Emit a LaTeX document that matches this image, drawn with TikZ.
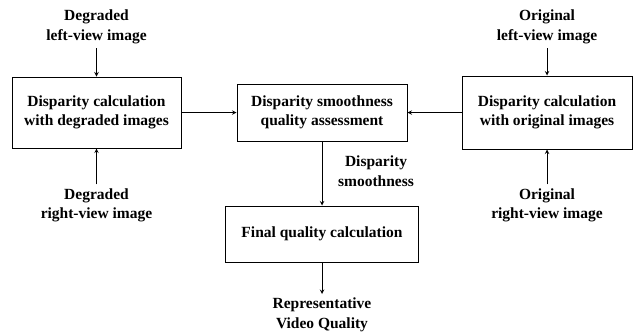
\documentclass[tikz,border=0pt]{standalone}
\usepackage{fontspec}
\setmainfont{Liberation Serif}
\usetikzlibrary{arrows,positioning}

\begin{document}
\begin{tikzpicture}[x=1pt, y=-1pt, >=stealth,
        box/.style={draw, line width=1pt, align=center, inner sep=0pt,
            font=\fontsize{15.5}{19.5}\selectfont\bfseries},
        lbl/.style={align=center, inner sep=4pt,
            font=\fontsize{15.5}{19.5}\selectfont\bfseries},
        flow/.style={->, line width=1pt}]

        \useasboundingbox (0,0) rectangle (636,333);

        % boxes
        \node[box, minimum width=169pt, minimum height=71pt] (degcalc) at (96.5,112.5)
            {Disparity calculation\\with degraded images};
        \node[box, minimum width=170pt, minimum height=57pt] (smooth) at (322,112.5)
            {Disparity smoothness\\quality assessment};
        \node[box, minimum width=170pt, minimum height=73pt] (origcalc) at (547,112.5)
            {Disparity calculation\\with original images};
        \node[box, minimum width=193pt, minimum height=56pt] (final) at (322,234)
            {Final quality calculation};

        % inputs and outputs
        \node[lbl] (degleft) at (96.5,27) {Degraded\\left-view image};
        \node[lbl] (degright) at (96.5,205.5) {Degraded\\right-view image};
        \node[lbl] (origleft) at (547,27) {Original\\left-view image};
        \node[lbl] (origright) at (547,205.5) {Original\\right-view image};
        \node[lbl] (smoothlbl) at (376,171) {Disparity\\smoothness};
        \node[lbl] (result) at (322,315) {Representative\\Video Quality};

        % connectors
        \draw[flow] (degleft) -- (degcalc);
        \draw[flow] (degright) -- (degcalc);
        \draw[flow] (origleft) -- (origcalc);
        \draw[flow] (origright) -- (origcalc);
        \draw[flow] (degcalc) -- (smooth);
        \draw[flow] (origcalc) -- (smooth);
        \draw[flow] (smooth) -- (final);
        \draw[flow] (final) -- (result);

    \end{tikzpicture}
\end{document}
